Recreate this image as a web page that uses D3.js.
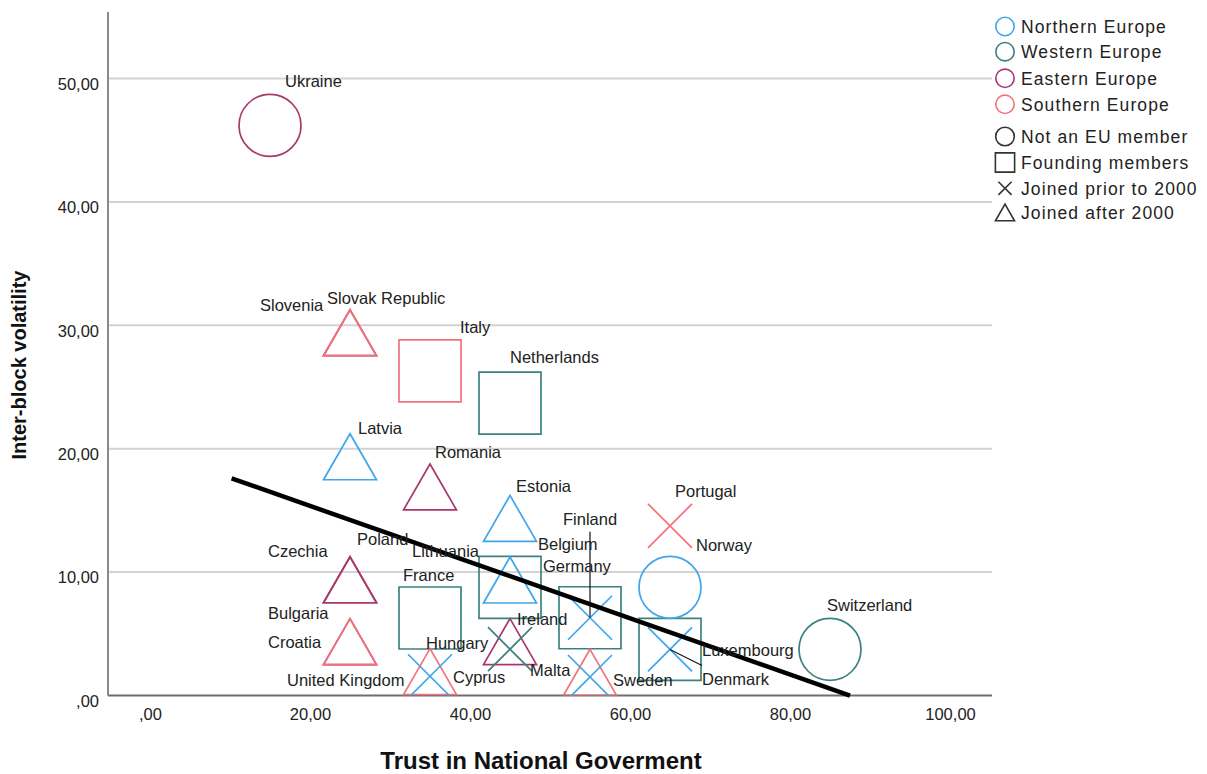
<!DOCTYPE html>
<html>
<head>
<meta charset="utf-8">
<script src="https://cdn.jsdelivr.net/npm/d3@7"></script>
<style>
  html, body { margin: 0; padding: 0; background: #fff; }
  svg { display: block; font-family: "Liberation Sans", Arial, sans-serif; }
</style>
</head>
<body>
<svg id="chart" width="1207" height="774"></svg>
<script>
// Countries with trust in national government (x) and inter-block volatility (y)
const countries = ["Slovak Republic", "Ukraine", "Romania", "Czechia", "Poland", "Bulgaria", "Hungary",
  "Netherlands", "Germany", "Belgium", "France", "Ireland", "Luxembourg", "Switzerland",
  "Slovenia", "Italy", "Portugal", "Croatia", "Cyprus", "Malta",
  "Latvia", "Estonia", "Norway", "Finland", "Lithuania", "United Kingdom", "Sweden", "Denmark"];
const trust = [25, 15, 35, 25, 25, 25, 45,
  45, 55, 45, 35, 45, 65, 85,
  25, 35, 65, 25, 35, 55,
  25, 45, 65, 55, 45, 35, 55, 65];
const volatility = [29.4, 46.2, 16.9, 9.38, 9.38, 4.36, 4.37,
  23.7, 6.3, 8.77, 6.28, 3.75, 3.73, 3.74,
  29.4, 26.3, 13.75, 4.36, 1.93, 1.88,
  19.35, 14.35, 8.77, 6.3, 9.36, 1.56, 1.5, 3.73];
const region = ["Eastern Europe", "Eastern Europe", "Eastern Europe", "Eastern Europe", "Eastern Europe", "Eastern Europe", "Eastern Europe",
  "Western Europe", "Western Europe", "Western Europe", "Western Europe", "Western Europe", "Western Europe", "Western Europe",
  "Southern Europe", "Southern Europe", "Southern Europe", "Southern Europe", "Southern Europe", "Southern Europe",
  "Northern Europe", "Northern Europe", "Northern Europe", "Northern Europe", "Northern Europe", "Northern Europe", "Northern Europe", "Northern Europe"];
const membership = ["after", "none", "after", "after", "after", "after", "after",
  "founding", "founding", "founding", "founding", "prior", "founding", "none",
  "after", "founding", "prior", "after", "after", "after",
  "after", "after", "none", "prior", "after", "prior", "prior", "prior"];

// Linear fit of volatility on trust
const fitIntercept = 19.92;
const fitSlope = -0.2277;
const fitRange = [10.2, 87.5];

const xTicks = [0, 20, 40, 60, 80, 100];
const yTicks = [0, 10, 20, 30, 40, 50];

const regionNames = ["Northern Europe", "Western Europe", "Eastern Europe", "Southern Europe"];
const memberKeys = ["none", "founding", "prior", "after"];
const memberNames = ["Not an EU member", "Founding members", "Joined prior to 2000", "Joined after 2000"];

// ---- layout & style ----
const regionColor = d3.scaleOrdinal()
  .domain(regionNames)
  .range(["#3fa6ec", "#3a8280", "#a8386c", "#f4717b"]);

// label placement relative to each marker centre (px): [dx, dy]
const labelOffset = {
  "Ukraine": [15, -38], "Slovenia": [-90, -22], "Slovak Republic": [-23, -29],
  "Italy": [30, -38], "Netherlands": [0, -40], "Latvia": [8, -23], "Romania": [5, -29],
  "Estonia": [6, -26], "Portugal": [5, -29], "Norway": [26, -36], "Finland": [-27, -93],
  "Germany": [-47, -46], "Belgium": [28, -37], "Lithuania": [-98, -23], "Czechia": [-82, -23],
  "Poland": [7, -35], "France": [-27, -37], "Bulgaria": [-82, -23], "Croatia": [-82, 6],
  "Ireland": [7, -24], "Hungary": [-84, 7], "United Kingdom": [-143, 10], "Cyprus": [23, 11],
  "Malta": [-60, 4], "Sweden": [23, 9], "Luxembourg": [32, 7], "Denmark": [32, 36],
  "Switzerland": [-3, -38]
};
// leader lines from marker centre (px): [dx, dy]
const leaders = { "Finland": [0, -86], "Denmark": [32, 16] };

const plot = { left: 108, right: 992, top: 12, bottom: 695.5 };

const x = d3.scaleLinear().domain([-5.25, 105.25]).range([plot.left, plot.right]);
const y = d3.scaleLinear().domain([0, 55.39]).range([plot.bottom, plot.top]);

const svg = d3.select("#chart");

svg.append("defs").append("clipPath").attr("id", "plotClip")
  .append("rect")
  .attr("x", plot.left).attr("y", plot.top)
  .attr("width", plot.right - plot.left).attr("height", plot.bottom - plot.top);

// gridlines
svg.append("g")
  .selectAll("line")
  .data(yTicks.filter(t => t > 0))
  .join("line")
  .attr("x1", plot.left).attr("x2", plot.right)
  .attr("y1", d => y(d)).attr("y2", d => y(d))
  .attr("stroke", "#d3d3d3").attr("stroke-width", 2);

// axes
const fmt = v => (v === 0 ? ",00" : d3.format(".2f")(v).replace(".", ","));

const yAxis = d3.axisLeft(y).tickValues(yTicks).tickFormat(fmt).tickSize(0).tickPadding(9);
const gy = svg.append("g").attr("transform", `translate(${plot.left},0)`).call(yAxis);
gy.select(".domain").remove();
gy.selectAll("text")
  .attr("font-family", "Liberation Sans, Arial, sans-serif")
  .attr("font-size", 16.5).attr("fill", "#222").attr("dy", "0.65em");

const xAxis = d3.axisBottom(x).tickValues(xTicks).tickFormat(fmt).tickSize(0).tickPadding(13);
const gx = svg.append("g").attr("transform", `translate(0,${plot.bottom})`).call(xAxis);
gx.select(".domain").remove();
gx.selectAll("text")
  .attr("font-family", "Liberation Sans, Arial, sans-serif")
  .attr("font-size", 16.5).attr("fill", "#222");

svg.append("line")
  .attr("x1", plot.left).attr("x2", plot.left)
  .attr("y1", plot.top).attr("y2", plot.bottom)
  .attr("stroke", "#8a8a8a").attr("stroke-width", 2);
svg.append("line")
  .attr("x1", plot.left).attr("x2", plot.right)
  .attr("y1", plot.bottom).attr("y2", plot.bottom)
  .attr("stroke", "#6e6e6e").attr("stroke-width", 2);

// axis titles
svg.append("text")
  .attr("x", 541).attr("y", 769)
  .attr("text-anchor", "middle")
  .attr("font-size", 24).attr("font-weight", "bold").attr("fill", "#111")
  .text("Trust in National Goverment");
svg.append("text")
  .attr("transform", "translate(26,365) rotate(-90)")
  .attr("text-anchor", "middle")
  .attr("font-size", 20).attr("font-weight", "bold").attr("fill", "#111")
  .text("Inter-block volatility");

// marker shapes
function markerPath(kind, s) {
  if (kind === "none") {
    const r = 31 * s;
    return `M${r},0A${r},${r},0,1,1,${-r},0A${r},${r},0,1,1,${r},0Z`;
  }
  if (kind === "founding") {
    const h = 31 * s;
    return `M${-h},${-h}H${h}V${h}H${-h}Z`;
  }
  if (kind === "prior") {
    const h = 22 * s;
    return `M${-h},${-h}L${h},${h}M${-h},${h}L${h},${-h}`;
  }
  const w = 26.5 * s, ht = 23 * s;
  return `M0,${-ht}L${w},${ht}L${-w},${ht}Z`;
}

const points = countries.map((name, i) => ({
  name, tx: trust[i], vy: volatility[i], region: region[i], member: membership[i]
}));

const markG = svg.append("g").attr("clip-path", "url(#plotClip)");
markG.selectAll("path")
  .data(points)
  .join("path")
  .attr("transform", d => `translate(${x(d.tx)},${y(d.vy)})`)
  .attr("d", d => markerPath(d.member, 1))
  .attr("fill", "none")
  .attr("stroke", d => regionColor(d.region))
  .attr("stroke-width", 1.7)
  .attr("stroke-linejoin", "miter");

// fit line
svg.append("line")
  .attr("x1", x(fitRange[0])).attr("y1", y(fitIntercept + fitSlope * fitRange[0]))
  .attr("x2", x(fitRange[1])).attr("y2", y(fitIntercept + fitSlope * fitRange[1]))
  .attr("stroke", "#000").attr("stroke-width", 4.5);

// leader lines
svg.append("g")
  .selectAll("line")
  .data(points.filter(d => leaders[d.name]))
  .join("line")
  .attr("x1", d => x(d.tx)).attr("y1", d => y(d.vy))
  .attr("x2", d => x(d.tx) + leaders[d.name][0]).attr("y2", d => y(d.vy) + leaders[d.name][1])
  .attr("stroke", "#111").attr("stroke-width", 1.2);

// point labels
svg.append("g")
  .selectAll("text")
  .data(points)
  .join("text")
  .attr("x", d => x(d.tx) + labelOffset[d.name][0])
  .attr("y", d => y(d.vy) + labelOffset[d.name][1])
  .attr("font-size", 16.5).attr("fill", "#222")
  .text(d => d.name);

// legend
const legend = svg.append("g");
const regionRows = [26.5, 51.7, 78.3, 104.3];
const memberRows = [136.5, 162.5, 188.3, 212.5];
regionNames.forEach((r, i) => {
  legend.append("circle")
    .attr("cx", 1005).attr("cy", regionRows[i]).attr("r", 9.2)
    .attr("fill", "none").attr("stroke", regionColor(r)).attr("stroke-width", 1.6);
  legend.append("text")
    .attr("x", 1021).attr("y", regionRows[i] + 6.5)
    .attr("font-size", 17.5).attr("letter-spacing", 1.1).attr("fill", "#222")
    .text(r);
});
memberKeys.forEach((k, i) => {
  legend.append("path")
    .attr("transform", `translate(1005,${memberRows[i]})`)
    .attr("d", markerPath(k, k === "none" ? 0.3 : k === "founding" ? 0.31 : k === "prior" ? 0.3 : 0.36))
    .attr("fill", "none").attr("stroke", "#333").attr("stroke-width", 1.6);
  legend.append("text")
    .attr("x", 1021).attr("y", memberRows[i] + 6.5)
    .attr("font-size", 17.5).attr("letter-spacing", 1.1).attr("fill", "#222")
    .text(memberNames[i]);
});
</script>
</body>
</html>
